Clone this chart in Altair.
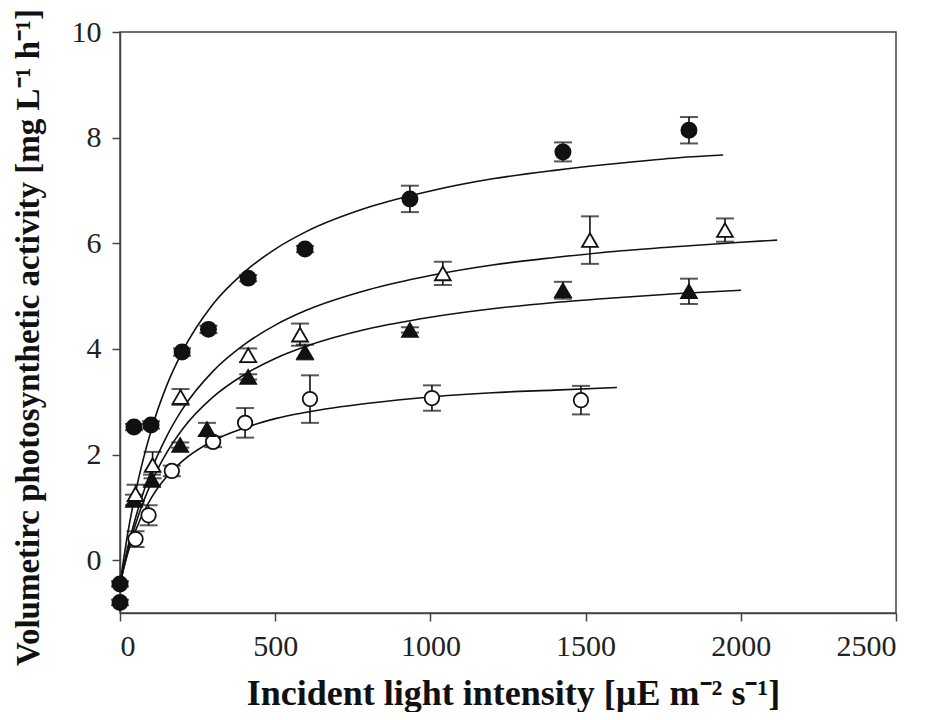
import altair as alt
import pandas as pd

# ---- measured points (x: incident light, y: activity, err: +/- error) ----
fc_x = [0, 0, 45, 100, 200, 285, 413, 596, 934, 1427, 1833]
fc_y = [-0.45, -0.80, 2.52, 2.56, 3.94, 4.37, 5.34, 5.89, 6.84, 7.73, 8.14]
fc_err = [0.05, 0.05, 0.06, 0.07, 0.07, 0.07, 0.06, 0.06, 0.25, 0.18, 0.25]

ot_x = [50, 105, 195, 413, 580, 1040, 1514, 1949]
ot_y = [1.25, 1.80, 3.09, 3.88, 4.27, 5.43, 6.06, 6.25]
ot_err = [0.18, 0.25, 0.15, 0.13, 0.21, 0.22, 0.45, 0.22]

ft_x = [45, 103, 194, 280, 413, 596, 934, 1427, 1833]
ft_y = [1.14, 1.52, 2.18, 2.48, 3.47, 3.94, 4.36, 5.11, 5.09]
ft_err = [0.10, 0.10, 0.05, 0.12, 0.05, 0.14, 0.05, 0.16, 0.24]

oc_x = [50, 92, 167, 300, 403, 612, 1005, 1485]
oc_y = [0.40, 0.85, 1.69, 2.24, 2.60, 3.05, 3.07, 3.03]
oc_err = [0.15, 0.19, 0.10, 0.10, 0.28, 0.45, 0.24, 0.27]

# ---- fitted curves ----
cA_x = [0, 25, 50, 100, 150, 200, 300, 400, 500, 600, 800, 1000, 1200, 1400, 1600, 1800, 1943]
cA_y = [-0.45, 0.51, 1.28, 2.45, 3.30, 3.94, 4.85, 5.45, 5.89, 6.22, 6.68, 6.99, 7.22, 7.38, 7.51, 7.62, 7.67]

cB_x = [0, 25, 50, 100, 150, 200, 300, 400, 500, 600, 800, 1000, 1200, 1400, 1600, 1800, 2000, 2117]
cB_y = [-0.45, 0.24, 0.80, 1.69, 2.34, 2.85, 3.58, 4.08, 4.45, 4.73, 5.12, 5.39, 5.59, 5.73, 5.85, 5.94, 6.02, 6.06]

cC_x = [0, 25, 50, 100, 150, 200, 300, 400, 500, 600, 800, 1000, 1200, 1400, 1600, 1800, 2001]
cC_y = [-0.45, 0.17, 0.68, 1.46, 2.03, 2.47, 3.09, 3.51, 3.82, 4.05, 4.38, 4.60, 4.76, 4.88, 4.97, 5.05, 5.11]

cD_x = [0, 25, 50, 100, 150, 200, 300, 400, 500, 600, 800, 1000, 1200, 1400, 1601]
cD_y = [-0.45, 0.13, 0.56, 1.17, 1.58, 1.87, 2.26, 2.50, 2.68, 2.80, 2.97, 3.09, 3.17, 3.22, 3.27]

x_ticks = [0, 500, 1000, 1500, 2000, 2500]
y_ticks = [0, 2, 4, 6, 8, 10]

x_title = "Incident light intensity [µE m⁻² s⁻¹]"
y_title = "Volumetirc photosynthetic activity [mg L⁻¹ h⁻¹]"

# ---- tables ----
def pts(name, xs, ys, es):
    return pd.DataFrame({"series": name, "x": xs, "y": ys,
                         "lo": [a - b for a, b in zip(ys, es)],
                         "hi": [a + b for a, b in zip(ys, es)]})

points = pd.concat([pts("fc", fc_x, fc_y, fc_err), pts("ot", ot_x, ot_y, ot_err),
                    pts("ft", ft_x, ft_y, ft_err), pts("oc", oc_x, oc_y, oc_err)],
                   ignore_index=True)
curves = pd.concat([pd.DataFrame({"series": n, "x": xs, "y": ys})
                    for n, xs, ys in [("A", cA_x, cA_y), ("B", cB_x, cB_y),
                                      ("C", cC_x, cC_y), ("D", cD_x, cD_y)]],
                   ignore_index=True)

FONT = "Liberation Serif"
xs = alt.Scale(domain=[0, 2500], nice=False, zero=False)
ys = alt.Scale(domain=[-1, 10], nice=False, zero=False)

X = alt.X("x:Q", scale=xs, axis=alt.Axis(values=x_ticks, title=x_title, titleX=393,
                                          titleY=91, titleBaseline="alphabetic",
                                          titleFontSize=36,
                                          labelPadding=10, format="d"))
Y = alt.Y("y:Q", scale=ys, axis=alt.Axis(values=y_ticks, title=y_title, titleX=-92,
                                          titleY=305, titleBaseline="middle",
                                          titleAlign="center", titleAngle=270,
                                          labelPadding=11))

lines = alt.Chart(curves).mark_line(color="#111", strokeWidth=1.6, interpolate="monotone").encode(
    x=X, y=Y, detail="series:N")

rules = alt.Chart(points).mark_rule(color="#111", strokeWidth=1.6).encode(
    x=alt.X("x:Q", scale=xs), y=alt.Y("lo:Q", scale=ys), y2="hi:Q")
cap_lo = alt.Chart(points).mark_tick(color="#111", orient="horizontal", size=18, thickness=2).encode(
    x=alt.X("x:Q", scale=xs), y=alt.Y("lo:Q", scale=ys))
cap_hi = alt.Chart(points).mark_tick(color="#111", orient="horizontal", size=18, thickness=2).encode(
    x=alt.X("x:Q", scale=xs), y=alt.Y("hi:Q", scale=ys))

def marker(name, shape, filled, size):
    return alt.Chart(points).transform_filter(alt.datum.series == name).mark_point(
        shape=shape, filled=True, size=size, opacity=1,
        fill="#111" if filled else "white", stroke="#111", strokeWidth=1.8).encode(
        x=alt.X("x:Q", scale=xs), y=alt.Y("y:Q", scale=ys))

chart = alt.layer(
    lines, rules, cap_lo, cap_hi,
    marker("oc", "circle", False, 210),
    marker("ft", "triangle-up", True, 250),
    marker("ot", "triangle-up", False, 250),
    marker("fc", "circle", True, 230),
).properties(
    width=776, height=581,
    autosize=alt.AutoSizeParams(type="none"),
    padding={"left": 112, "top": 24, "right": 40, "bottom": 99},
).configure_view(
    stroke="#444", strokeWidth=1.5
).configure_axis(
    grid=False, domainColor="#444", domainWidth=1.5, tickColor="#444", tickWidth=1.5,
    tickSize=8, labelFont=FONT, labelFontSize=30, labelColor="#222",
    titleFont=FONT, titleFontSize=33, titleFontWeight="bold", titleColor="#111",
)

chart.save("out.html", embed_options={"renderer": "svg", "actions": False})
